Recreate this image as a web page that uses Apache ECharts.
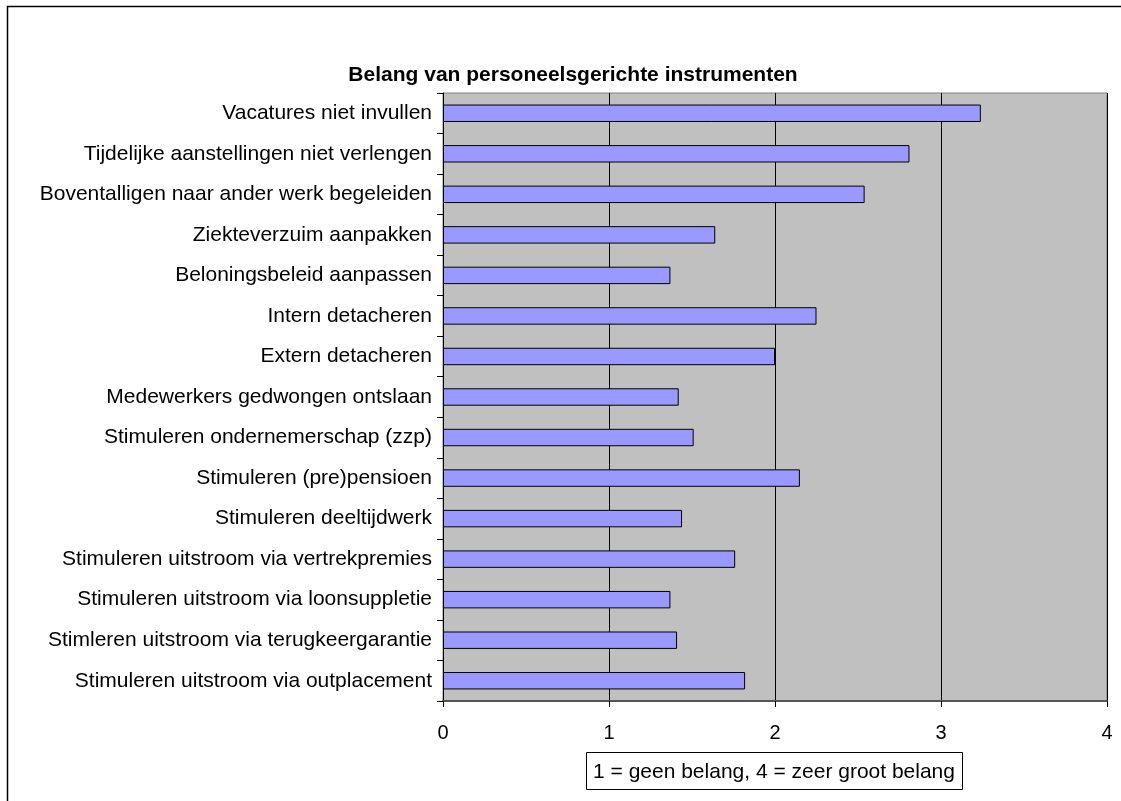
<!DOCTYPE html>
<html>
<head>
<meta charset="utf-8">
<script src="https://cdn.jsdelivr.net/npm/echarts@6/dist/echarts.min.js"></script>
<style>
  html, body { margin: 0; padding: 0; background: #fff; }
  #plot { width: 1121px; height: 801px; }
</style>
</head>
<body>
<div id="plot"></div>
<script>
"use strict";

// Categories, top to bottom as in the picture.
var categories = [
  'Vacatures niet invullen',
  'Tijdelijke aanstellingen niet verlengen',
  'Boventalligen naar ander werk begeleiden',
  'Ziekteverzuim aanpakken',
  'Beloningsbeleid aanpassen',
  'Intern detacheren',
  'Extern detacheren',
  'Medewerkers gedwongen ontslaan',
  'Stimuleren ondernemerschap (zzp)',
  'Stimuleren (pre)pensioen',
  'Stimuleren deeltijdwerk',
  'Stimuleren uitstroom via vertrekpremies',
  'Stimuleren uitstroom via loonsuppletie',
  'Stimleren uitstroom via terugkeergarantie',
  'Stimuleren uitstroom via outplacement'
];

// Mean score per instrument (1 = geen belang, 4 = zeer groot belang).
var scores = [3.24, 2.81, 2.54, 1.64, 1.37, 2.25, 2.0, 1.42, 1.51, 2.15, 1.44, 1.76, 1.37, 1.41, 1.82];

var xTicks = [0, 1, 2, 3, 4];

var font = '"Liberation Sans", Arial, sans-serif';

var chart = echarts.init(document.getElementById('plot'));
chart.setOption({
  backgroundColor: '#fff',
  animation: false,
  title: {
    text: 'Belang van personeelsgerichte instrumenten',
    left: 568,
    top: 60,
    textAlign: 'center',
    textStyle: { fontFamily: font, fontSize: 21, fontWeight: 'bold', color: '#000' }
  },
  grid: {
    left: 443,
    right: 14,
    top: 93,
    bottom: 100,
    show: true,
    backgroundColor: '#C0C0C0',
    borderColor: '#808080',
    borderWidth: 1
  },
  xAxis: {
    type: 'value',
    min: xTicks[0],
    max: xTicks[xTicks.length - 1],
    interval: 1,
    axisLine: { show: true, lineStyle: { color: '#555', width: 2 } },
    axisTick: { show: true, length: 6, lineStyle: { color: '#000' } },
    axisLabel: { margin: 22, color: '#000', fontFamily: font, fontSize: 20 },
    splitLine: { show: true, lineStyle: { color: '#000', width: 1 } }
  },
  yAxis: {
    type: 'category',
    data: categories,
    inverse: true,
    axisLine: { show: true, lineStyle: { color: '#000', width: 1 } },
    axisTick: { show: true, length: 6, lineStyle: { color: '#000' } },
    axisLabel: { margin: 11, color: '#000', fontFamily: font, fontSize: 21 },
    splitLine: { show: false }
  },
  series: [{
    type: 'bar',
    data: scores,
    barCategoryGap: '57%',
    itemStyle: { color: '#9999FF', borderColor: '#000', borderWidth: 1 }
  }],
  graphic: [
    {
      // outer chart frame (cut off at right and bottom)
      type: 'rect',
      shape: { x: 7.5, y: 6.5, width: 1200, height: 900 },
      style: { fill: null, stroke: '#000', lineWidth: 1.5 },
      silent: true
    },
    {
      type: 'group',
      left: 586,
      top: 752,
      children: [
        {
          type: 'rect',
          shape: { x: 0.5, y: 0.5, width: 376, height: 37 },
          style: { fill: '#fff', stroke: '#000', lineWidth: 1 }
        },
        {
          type: 'text',
          x: 188,
          y: 20,
          style: {
            text: '1 = geen belang, 4 = zeer groot belang',
            fill: '#000',
            font: '21px ' + font,
            textAlign: 'center',
            textVerticalAlign: 'middle'
          }
        }
      ]
    }
  ]
});
</script>
</body>
</html>
